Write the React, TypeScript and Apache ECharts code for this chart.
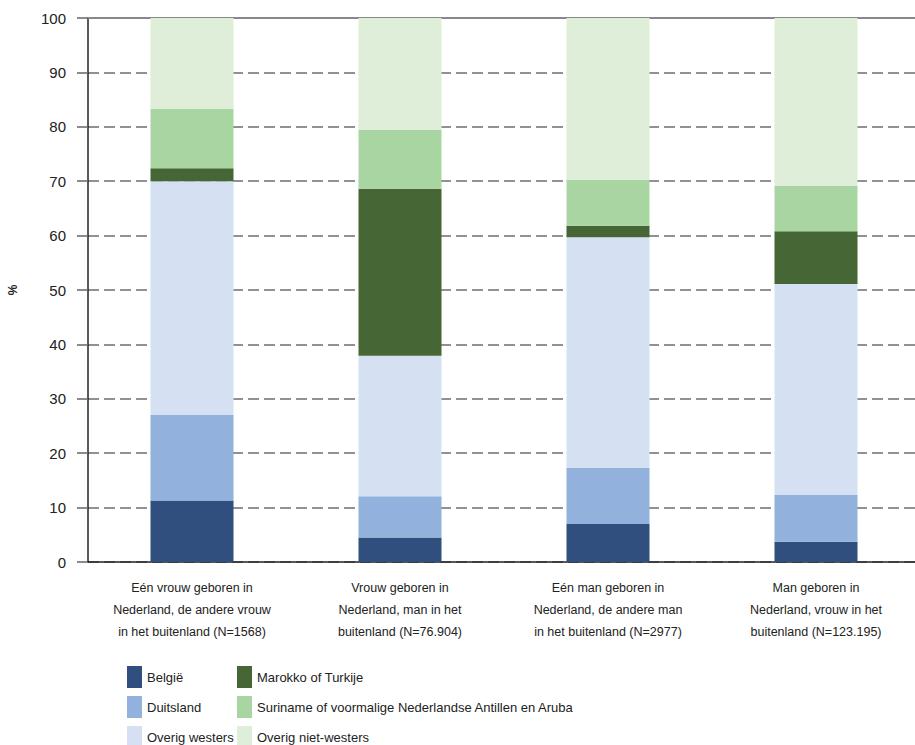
import React, { useEffect, useRef } from "react";
import * as echarts from "echarts";

const categories = [
  "Eén vrouw geboren in\nNederland, de andere vrouw\nin het buitenland (N=1568)",
  "Vrouw geboren in\nNederland, man in het\nbuitenland (N=76.904)",
  "Eén man geboren in\nNederland, de andere man\nin het buitenland (N=2977)",
  "Man geboren in\nNederland, vrouw in het\nbuitenland (N=123.195)",
];

const seriesNames = [
  "België",
  "Duitsland",
  "Overig westers",
  "Marokko of Turkije",
  "Suriname of voormalige Nederlandse Antillen en Aruba",
  "Overig niet-westers",
];

const belgie = [11.3, 4.5, 7.0, 3.7];
const duitsland = [15.7, 7.6, 10.3, 8.6];
const overigWesters = [43.0, 25.8, 42.4, 38.8];
const marokkoTurkije = [2.4, 30.7, 2.1, 9.7];
const suriname = [10.9, 10.8, 8.4, 8.3];
const overigNietWesters = [16.7, 20.6, 29.8, 30.9];

const yTicks = { min: 0, max: 100, interval: 10 };

const colors = ["#304f7e", "#92b1dc", "#d5e1f2", "#476636", "#a8d5a1", "#deeed9"];

const FONT = "'Liberation Sans Narrow', 'Liberation Sans', Arial, sans-serif";

export default function App() {
  const ref = useRef<HTMLDivElement>(null);
  useEffect(() => {
    if (!ref.current) return;
    const chart = echarts.init(ref.current, null, { renderer: "svg" });
    const values = [belgie, duitsland, overigWesters, marokkoTurkije, suriname, overigNietWesters];
    const series = values.map((v, i) => ({
      name: seriesNames[i],
      type: "bar",
      stack: "total",
      barWidth: 83,
      data: v,
      itemStyle: { color: colors[i] },
    }));
    const legendBase = {
      orient: "vertical",
      top: 661,
      height: 200,
      itemWidth: 15,
      itemHeight: 22,
      itemGap: 8,
      icon: "rect",
      textStyle: { fontSize: 13, color: "#222", fontFamily: FONT, padding: [6, 0, 0, 0] },
    };
    chart.setOption({
      animation: false,
      textStyle: { fontFamily: FONT },
      grid: { left: 88, right: 10, top: 18, bottom: 183, outerBoundsMode: "none", containLabel: false },
      legend: [
        { ...legendBase, left: 122, data: seriesNames.slice(0, 3) },
        { ...legendBase, left: 232, data: seriesNames.slice(3) },
      ],
      xAxis: [
        {
          type: "category",
          data: categories,
          axisLine: { show: true, lineStyle: { color: "#222", width: 1.5 } },
          axisTick: { show: false },
          axisLabel: {
            interval: 0,
            margin: 15,
            fontSize: 12.5,
            lineHeight: 22,
            color: "#222",
            fontFamily: FONT,
            verticalAlign: "top",
          },
        },
        {
          type: "category",
          position: "top",
          data: categories,
          axisLine: { show: true, lineStyle: { color: "#888", width: 2 } },
          axisTick: { show: false },
          axisLabel: { show: false },
        },
      ],
      yAxis: {
        type: "value",
        min: yTicks.min,
        max: yTicks.max,
        interval: yTicks.interval,
        name: "%",
        nameLocation: "middle",
        nameGap: 69,
        nameTextStyle: { fontSize: 12, fontWeight: "bold", color: "#222", fontFamily: "'Liberation Sans', Arial, sans-serif" },
        axisLine: { show: true, lineStyle: { color: "#222", width: 1.5 } },
        axisTick: { show: true, length: 11, lineStyle: { color: "#666", width: 1.5 } },
        axisLabel: {
          margin: 22,
          fontSize: 15,
          color: "#222",
          fontFamily: "'Liberation Sans', Arial, sans-serif",
        },
        splitLine: {
          show: true,
          lineStyle: { color: "#6e6e6e", width: 1.5, type: [11, 5] },
        },
      },
      series,
    });
    return () => chart.dispose();
  }, []);
  return (
    <div style={{ position: "absolute", left: 0, top: 0, width: 915, height: 745, overflow: "hidden" }}>
      <div ref={ref} style={{ width: 930, height: 745 }} />
    </div>
  );
}
